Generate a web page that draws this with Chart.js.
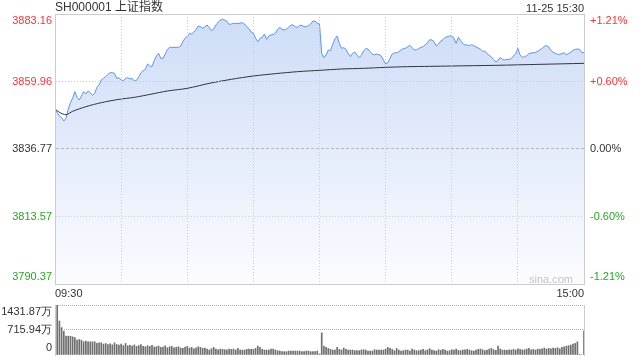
<!DOCTYPE html>
<html>
<head>
<meta charset="utf-8">
<script src="https://cdn.jsdelivr.net/npm/chart.js@4.4.1/dist/chart.umd.min.js"></script>
<style>
  body { margin: 0; background: #fff; }
  #wrap { position: relative; width: 640px; height: 360px; overflow: hidden;
          font-family: Arial, 'Liberation Sans', 'Noto Sans CJK SC', sans-serif; color: #333; }
  #main { position: absolute; left: 0; top: 0; }
  #vol  { position: absolute; left: 0; top: 300px; }
  .txt  { position: absolute; white-space: nowrap; line-height: 14px; }
  #title { left: 55px; top: 0; font-size: 12px; }
  #stamp { right: 56px; top: 1px; font-size: 11px; }
  #mark  { right: 67px; top: 272px; font-size: 11px; color: #c4c4c4; }
</style>
</head>
<body>
<div id="wrap">
  <canvas id="main" width="640" height="300"></canvas>
  <canvas id="vol" width="640" height="60"></canvas>
  <div class="txt" id="title">SH000001 上证指数</div>
  <div class="txt" id="stamp">11-25 15:30</div>
  <div class="txt" id="mark">sina.com</div>
</div>
<script>
// minute index 0..240 : 09:30-11:30 then 13:01-15:00
const prevClose = 3836.77;
const priceTicks = [3790.37, 3813.57, 3836.77, 3859.96, 3883.16];
const volTicks = [0, 715.94, 1431.87];
const timeTicks = [0, 30, 60, 90, 120, 150, 180, 210, 240];
const timeLabels = ['09:30', '', '', '', '', '', '', '', '15:00'];

const prices = [
  3850.40, 3849.25, 3848.11, 3847.53, 3846.39, 3847.30, 3850.40, 3852.69, 3854.18, 3856.47,
  3854.52, 3853.60, 3854.98, 3856.47, 3855.67, 3856.70, 3856.13, 3855.21, 3855.90, 3857.96,
  3858.76, 3860.48, 3861.05, 3861.62, 3862.43, 3863.00, 3863.00, 3862.77, 3861.05, 3861.28,
  3860.48, 3860.25, 3861.05, 3861.28, 3860.82, 3861.05, 3860.13, 3860.36, 3861.62, 3863.00,
  3863.69, 3864.14, 3865.98, 3865.29, 3865.06, 3867.12, 3868.73, 3869.64, 3867.92, 3867.92,
  3869.41, 3871.02, 3871.71, 3871.71, 3871.71, 3871.71, 3871.71, 3872.16, 3873.65, 3874.80,
  3875.49, 3876.52, 3876.29, 3876.97, 3877.89, 3879.04, 3878.81, 3878.23, 3878.81, 3879.38,
  3878.46, 3877.43, 3878.01, 3879.38, 3880.30, 3881.10, 3881.33, 3881.10, 3880.64, 3879.61,
  3879.72, 3879.95, 3879.95, 3879.84, 3880.07, 3880.18, 3879.72, 3878.81, 3878.12, 3876.97,
  3876.52, 3874.80, 3873.65, 3874.80, 3875.14, 3876.29, 3874.45, 3875.60, 3875.94, 3876.06,
  3876.52, 3877.89, 3878.58, 3877.89, 3877.66, 3878.01, 3878.58, 3879.38, 3879.38, 3878.81,
  3878.58, 3879.27, 3879.27, 3878.81, 3878.81, 3879.15, 3879.72, 3880.75, 3880.75, 3879.95,
  3879.72,
  3869.64, 3868.15, 3869.07, 3870.79, 3870.56, 3872.74, 3874.68, 3875.60, 3873.08, 3871.36,
  3871.59, 3871.02, 3869.64, 3868.50, 3869.64, 3870.10, 3868.96, 3868.27, 3868.96, 3870.56,
  3871.25, 3871.13, 3870.22, 3869.30, 3869.18, 3869.41, 3869.18, 3868.73, 3867.35, 3865.98,
  3866.44, 3867.92, 3869.41, 3869.87, 3869.76, 3870.22, 3870.79, 3871.25, 3871.36, 3871.93,
  3872.39, 3871.59, 3870.79, 3870.90, 3871.25, 3871.71, 3871.93, 3872.62, 3873.31, 3874.34,
  3874.22, 3873.65, 3872.16, 3872.85, 3873.88, 3874.34, 3875.14, 3875.37, 3875.60, 3875.71,
  3874.80, 3873.08, 3875.14, 3874.11, 3872.97, 3872.51, 3872.51, 3872.28, 3872.62, 3872.28,
  3871.82, 3871.48, 3871.13, 3870.33, 3870.44, 3869.53, 3868.96, 3868.38, 3867.47, 3866.66,
  3867.12, 3868.27, 3867.58, 3867.35, 3867.58, 3867.58, 3867.81, 3868.73, 3869.53, 3871.36,
  3869.07, 3868.27, 3868.50, 3868.84, 3869.53, 3869.76, 3869.87, 3869.99, 3870.33, 3870.79,
  3871.36, 3872.05, 3872.28, 3871.82, 3870.67, 3869.99, 3869.64, 3869.30, 3869.30, 3869.53,
  3869.87, 3869.07, 3869.64, 3869.99, 3870.67, 3871.02, 3871.13, 3871.02, 3869.87, 3869.87
];

// average price line, read at a few minutes
const avgMinutes = [0, 2, 5, 8, 14, 21, 29, 36, 44, 51, 60, 70, 80, 90, 100, 110, 120, 130, 140, 150, 160, 170, 180, 200, 220, 240];
const avgPrices = [3850.51, 3849.37, 3848.56, 3849.71, 3851.31, 3852.69, 3853.83, 3854.52, 3855.67, 3856.70,
  3857.61, 3859.33, 3860.71, 3861.85, 3862.66, 3863.34, 3863.80, 3864.26, 3864.49, 3864.83,
  3865.06, 3865.17, 3865.29, 3865.52, 3865.86, 3866.21];

// volume, 万
const volumes = [
  539, 1431.87, 973, 784, 680, 539, 539, 539, 520, 501,
  425, 444, 425, 378, 397, 378, 378, 378, 378, 331, 350, 350,
  312, 330, 300, 318, 290, 350, 300, 283, 310, 270, 330, 265, 280, 255, 290, 245, 270, 300,
  250, 236, 265, 245, 280, 227, 240, 255, 217, 230, 262, 210, 236, 245, 208, 220, 236, 200,
  189, 227, 245, 198, 217, 180, 208, 236,
  217, 189, 198, 170, 142, 180, 217, 170, 151, 170, 161, 151, 151, 170, 161, 170, 142, 189,
  142, 142, 142, 161, 170, 161, 161, 189, 255, 217, 161, 142, 142, 142, 170, 170, 142, 123,
  113, 95, 95, 95, 113, 113, 113, 113, 113, 113, 95, 95, 113, 113, 95, 95, 95, 113, 28,
  633, 255, 217, 189, 161, 142, 142,
  217, 161, 142, 198, 161, 142, 142, 142, 123, 123, 123, 142, 151, 142, 113, 113, 113, 151,
  142, 142, 142, 142, 170, 217, 189, 161, 123, 189, 142, 113, 123, 142, 142, 113, 170, 142,
  123, 123,
  142, 161, 123, 151, 180, 142, 123, 113, 151, 132, 161, 142, 113, 123, 151, 142, 170, 132,
  123, 142, 151, 161, 142, 123, 113, 142, 161, 170, 151, 123, 142, 170, 189, 151, 132, 255,
  170, 142, 142, 132, 151, 142, 161, 142, 180, 161, 142, 151, 170, 189, 151, 161, 142, 170,
  161, 180, 198, 170, 189, 180, 198, 189, 208, 180, 217, 236, 255, 265, 283, 312, 331, 378,
  20, 0, 690
];

const red = '#f33', green = '#2a2', ink = '#333', line = '#ccc';
Chart.defaults.font.family = "Arial, 'Liberation Sans', sans-serif";
Chart.defaults.font.size = 11;
Chart.defaults.color = ink;

const tickFont = { size: 11, lineHeight: 1.25 };
// push edge labels inside the plot (like the reference)
function edgeLabel(text, i, n) {
  if (i === 0) return [text, ''];
  if (i === n - 1) return ['', text];
  return text;
}
function priceColor(c) {
  const i = c.index;
  return i > 2 ? red : i < 2 ? green : ink;
}
function pctText(v) {
  const p = (v - prevClose) / prevClose * 100;
  return (p > 0.001 ? '+' : '') + p.toFixed(2) + '%';
}
// fixed side width, and no extra room for the two-line edge labels
function fixWidth(w) {
  return (s) => { s.width = w; s.paddingTop = 0; s.paddingBottom = 0; };
}

new Chart(document.getElementById('main'), {
  type: 'line',
  data: {
    datasets: [
      {
        label: '价格',
        data: prices.map((v, i) => ({ x: i, y: v })),
        borderColor: '#5b95ee',
        borderWidth: 1,
        pointRadius: 0,
        tension: 0,
        fill: 'start',
        order: 1,
        backgroundColor: (c) => {
          const area = c.chart.chartArea;
          if (!area) return 'rgba(0,0,0,0)';
          const g = c.chart.ctx.createLinearGradient(0, area.top, 0, area.bottom);
          g.addColorStop(0, '#cddcf7');
          g.addColorStop(1, '#fbfcff');
          return g;
        },
      },
      {
        label: '均价',
        data: avgMinutes.map((m, i) => ({ x: m, y: avgPrices[i] })),
        borderColor: '#2f3542',
        borderWidth: 1,
        pointRadius: 0,
        tension: 0.3,
        fill: false,
        order: 0,
      }
    ]
  },
  options: {
    responsive: false,
    animation: false,
    layout: { padding: { top: 14, left: 0, right: 0, bottom: 0 } },
    plugins: {
      legend: { display: false },
      tooltip: { enabled: false },
      filler: { drawTime: 'beforeDatasetsDraw' }
    },
    scales: {
      x: {
        type: 'linear', min: 0, max: 240,
        afterBuildTicks: (s) => { s.ticks = timeTicks.map(v => ({ value: v })); },
        afterFit: (s) => { s.height = 16; },
        ticks: { autoSkip: false, maxRotation: 0, align: 'inner', padding: 3, color: ink,
                 callback: (v, i) => timeLabels[i] },
        grid: { color: line, drawTicks: false, z: 1 },
        border: { color: line, dash: [1, 2], z: 1 }
      },
      y: {
        position: 'left', min: priceTicks[0], max: priceTicks[4],
        afterBuildTicks: (s) => { s.ticks = priceTicks.map(v => ({ value: v })); },
        afterFit: fixWidth(55),
        ticks: { autoSkip: false, padding: 3, font: tickFont, color: priceColor,
                 callback: (v, i) => edgeLabel(priceTicks[i].toFixed(2), i, priceTicks.length) },
        grid: { drawTicks: false, z: 1, color: (c) => c.index === 2 ? '#b8b8b8' : line },
        border: { color: line, z: 1,
                  dash: (c) => (c.index === 0 || c.index === 4) ? [] : c.index === 2 ? [3, 2] : [1, 2] }
      },
      yR: {
        position: 'right', min: priceTicks[0], max: priceTicks[4],
        afterBuildTicks: (s) => { s.ticks = priceTicks.map(v => ({ value: v })); },
        afterFit: fixWidth(56),
        ticks: { autoSkip: false, padding: 6, font: tickFont, color: priceColor,
                 callback: (v, i) => edgeLabel(pctText(priceTicks[i]), i, priceTicks.length) },
        grid: { drawOnChartArea: false, drawTicks: false },
        border: { color: line, z: 1 }
      }
    }
  }
});

new Chart(document.getElementById('vol'), {
  type: 'bar',
  data: {
    datasets: [{
      label: '成交量',
      data: volumes.map((v, i) => ({ x: i, y: v })),
      backgroundColor: '#6e6e6e',
      borderWidth: 0,
      barThickness: 1,
    }]
  },
  options: {
    responsive: false,
    animation: false,
    layout: { padding: { top: 5, bottom: 5, left: 0, right: 0 } },
    plugins: { legend: { display: false }, tooltip: { enabled: false } },
    scales: {
      x: { type: 'linear', min: 0, max: 240, offset: false, display: false },
      y: {
        position: 'left', min: 0, max: volTicks[2],
        afterBuildTicks: (s) => { s.ticks = volTicks.map(v => ({ value: v })); },
        afterFit: fixWidth(55),
        ticks: { autoSkip: false, padding: 3, font: tickFont, color: ink,
                 callback: (v, i) => edgeLabel(i === 0 ? '0' : volTicks[i].toFixed(2) + '万', i, volTicks.length) },
        grid: { display: true, drawOnChartArea: true, drawTicks: false, z: 1, lineWidth: 1,
                color: (c) => c.index === 0 ? 'rgba(255,255,255,0)' : '#b0b0b0' },
        border: { display: true, color: line, z: 1, dash: [1, 1] }
      },
      yR: {
        position: 'right', min: 0, max: volTicks[2],
        afterFit: fixWidth(56),
        ticks: { display: false },
        grid: { drawOnChartArea: false, drawTicks: false },
        border: { color: line, z: 1 }
      }
    }
  }
});
</script>
</body>
</html>
